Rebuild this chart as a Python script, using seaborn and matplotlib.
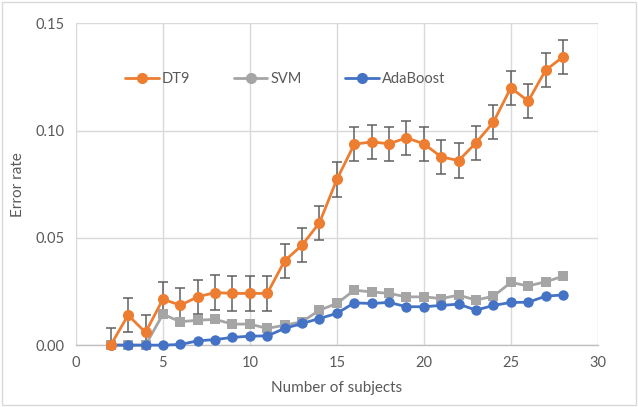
import numpy as np
import pandas as pd
import matplotlib
matplotlib.use("Agg")
import matplotlib.pyplot as plt
from matplotlib.lines import Line2D
import seaborn as sns

subjects = list(range(2, 29))
dt9 = [0.000, 0.0140, 0.0059, 0.0214, 0.0186, 0.0225, 0.0245, 0.0241, 0.0241, 0.0241,
       0.0393, 0.0466, 0.0570, 0.0772, 0.0936, 0.0947, 0.0938, 0.0966, 0.0938, 0.0877,
       0.0860, 0.0943, 0.1039, 0.1199, 0.1137, 0.1281, 0.1343]
dt9_err = [0.008] * len(subjects)
svm = [0.000, 0.000, 0.000, 0.0144, 0.0109, 0.0116, 0.0120, 0.0098, 0.0098, 0.0078,
       0.0093, 0.0109, 0.0163, 0.0194, 0.0256, 0.0248, 0.0241, 0.0225, 0.0225, 0.0217,
       0.0233, 0.0210, 0.0228, 0.0292, 0.0276, 0.0295, 0.0321]
ada = [0.000, 0.000, 0.000, 0.000, 0.0003, 0.0020, 0.0026, 0.0036, 0.0042, 0.0043,
       0.0078, 0.0101, 0.0124, 0.0148, 0.0197, 0.0194, 0.0199, 0.0179, 0.0179, 0.0185,
       0.0191, 0.0163, 0.0185, 0.0199, 0.0200, 0.0228, 0.0234]
x_ticks = [0, 5, 10, 15, 20, 25, 30]
y_ticks = [0.00, 0.05, 0.10, 0.15]
y_tick_labels = ["0.00", "0.05", "0.10", "0.15"]
series_names = ["DT9", "SVM", "AdaBoost"]

sns.set_theme(style="white")
plt.rcParams['font.family'] = ['Lato', 'DejaVu Sans']

c_dt9 = "#ED7D31"
c_svm = "#A5A5A5"
c_ada = "#4472C4"
txt = "#595959"

fig = plt.figure(figsize=(6.38, 4.07), dpi=100)
ax = fig.add_axes([0.119, 0.152, 0.818, 0.791])

df = pd.DataFrame({"x": subjects, "DT9": dt9, "SVM": svm, "AdaBoost": ada})

ax.errorbar(subjects, dt9, yerr=dt9_err, fmt="none", ecolor="#606060",
            elinewidth=1.1, capsize=3.5, capthick=1.1, zorder=2)
sns.lineplot(data=df, x="x", y="SVM", ax=ax, color=c_svm, marker="s", markersize=7,
             markeredgewidth=0, linewidth=2.0, zorder=3, clip_on=False)
sns.lineplot(data=df, x="x", y="AdaBoost", ax=ax, color=c_ada, marker="o", markersize=7.5,
             markeredgewidth=0, linewidth=2.0, zorder=4, clip_on=False)
sns.lineplot(data=df, x="x", y="DT9", ax=ax, color=c_dt9, marker="o", markersize=8,
             markeredgewidth=0, linewidth=2.0, zorder=5, clip_on=False)

ax.set_xlim(0, 30)
ax.set_ylim(0, 0.15)
ax.set_xticks(x_ticks)
ax.set_yticks(y_ticks)
ax.set_yticklabels(y_tick_labels)
ax.grid(True, color="#D9D9D9", linewidth=1.0)
ax.set_axisbelow(True)
for s in ["top", "right", "left"]:
    ax.spines[s].set_visible(False)
ax.spines["bottom"].set_color("#BFBFBF")
ax.spines["bottom"].set_linewidth(1.0)
ax.tick_params(axis="both", colors=txt, labelsize=10.5, length=0, pad=8)
ax.set_xlabel("Number of subjects", color=txt, fontsize=11, labelpad=8)
ax.set_ylabel("Error rate", color=txt, fontsize=11, labelpad=8)

handles = [Line2D([], [], color=c, marker="o", markersize=8, markeredgewidth=0, linewidth=2.0)
           for c in [c_dt9, c_svm, c_ada]]
ax.legend(handles, series_names,
          loc="center", bbox_to_anchor=(0.447, 0.806), bbox_transform=fig.transFigure,
          ncol=3, frameon=False, handlelength=2.3, columnspacing=3.0, handletextpad=0.2,
          fontsize=10.5, labelcolor=txt)

fig.patches.append(plt.Rectangle((0.003, 0.004), 0.994, 0.992, transform=fig.transFigure,
                                 fill=False, edgecolor="#D9D9D9", linewidth=1.0))
fig.savefig("out.png", dpi=100)
